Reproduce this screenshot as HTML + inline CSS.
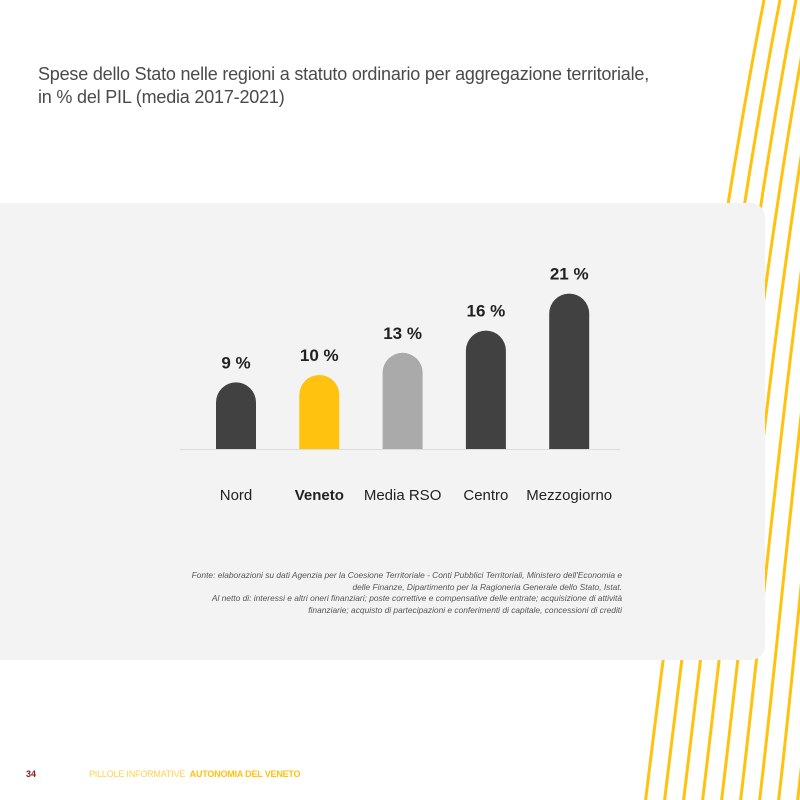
<!DOCTYPE html>
<html><head><meta charset="utf-8"><style>
html,body{margin:0;padding:0;background:#fff;}
body{width:800px;height:800px;position:relative;overflow:hidden;font-family:"Liberation Sans",sans-serif;}
</style></head><body>
<svg width="800" height="800" style="position:absolute;left:0;top:0">
<g id="lines" fill="none" stroke="#ffc20e" stroke-width="3"></g>
</svg>
<div style="position:absolute;left:0;top:203px;width:765px;height:457px;background:#f3f3f3;border-radius:0 14px 14px 0;"></div>
<div style="position:absolute;left:38px;top:63px;font-size:18px;line-height:23px;color:#4a4a4a;letter-spacing:-0.2px;">Spese dello Stato nelle regioni a statuto ordinario per aggregazione territoriale,<br>in % del PIL (media 2017-2021)</div>
<svg id="chart" width="800" height="800" style="position:absolute;left:0;top:0"></svg>
<div style="position:absolute;right:178px;top:570px;width:450px;text-align:right;font-size:8.4px;line-height:11.5px;font-style:italic;color:#555;">Fonte: elaborazioni su dati Agenzia per la Coesione Territoriale - Conti Pubblici Territoriali, Ministero dell'Economia e<br>delle Finanze, Dipartimento per la Ragioneria Generale dello Stato, Istat.<br>Al netto di: interessi e altri oneri finanziari; poste correttive e compensative delle entrate; acquisizione di attività<br>finanziarie; acquisto di partecipazioni e conferimenti di capitale, concessioni di crediti</div>
<div style="position:absolute;left:26px;top:769px;font-size:9px;font-weight:bold;color:#8b1a1a;">34</div>
<div style="position:absolute;left:89px;top:769px;font-size:9px;color:#ffd24d;letter-spacing:-0.2px;">PILLOLE INFORMATIVE &nbsp;<b style="color:#ffc20e">AUTONOMIA DEL VENETO</b></div>
<script>
const categories=["Nord","Veneto","Media RSO","Centro","Mezzogiorno"];
const values=[9,10,13,16,21];
const valueLabels=["9 %","10 %","13 %","16 %","21 %"];
const colors=["#414141","#ffc20e","#aaaaaa","#414141","#414141"];
const NS="http://www.w3.org/2000/svg";
const svg=document.getElementById('chart');
const base=449,scale=7.4,x0=236,step=83.3,bw=40;
const xOf=i=>x0+i*step, yOf=v=>base-v*scale;
const bl=document.createElementNS(NS,'line');
bl.setAttribute('x1',180);bl.setAttribute('x2',620);bl.setAttribute('y1',base+0.5);bl.setAttribute('y2',base+0.5);
bl.setAttribute('stroke','#dcdcdc');


svg.appendChild(bl);
values.forEach((v,i)=>{
 const cx=xOf(i),top=yOf(v),r=bw/2;
 const p=document.createElementNS(NS,'path');
 p.setAttribute('d',`M${cx-r},${base}V${top+r}A${r},${r} 0 0 1 ${cx+r},${top+r}V${base}Z`);
 p.setAttribute('fill',colors[i]);
 
 
 svg.appendChild(p);
 const t=document.createElementNS(NS,'text');
 t.setAttribute('x',cx);t.setAttribute('y',top-14);t.setAttribute('text-anchor','middle');
 t.setAttribute('font-size','17');t.setAttribute('font-weight','bold');t.setAttribute('fill','#222');
 t.textContent=valueLabels[i];
 
 
 svg.appendChild(t);
 const c=document.createElementNS(NS,'text');
 c.setAttribute('x',cx);c.setAttribute('y',500);c.setAttribute('text-anchor','middle');
 c.setAttribute('font-size','15');c.setAttribute('fill','#222');
 if(i===1)c.setAttribute('font-weight','bold');
 c.textContent=categories[i];
 
 
 svg.appendChild(c);
});
const g=document.getElementById('lines');
for(let i=0;i<9;i++){
 const xb=645+i*19, xt=765+i*16;
 const p=document.createElementNS(NS,'path');
 p.setAttribute('d',`M${xb},805 C${xb+25},600 ${xt-50},250 ${xt},-5`);
 
 
 g.appendChild(p);
}
</script>
</body></html>
